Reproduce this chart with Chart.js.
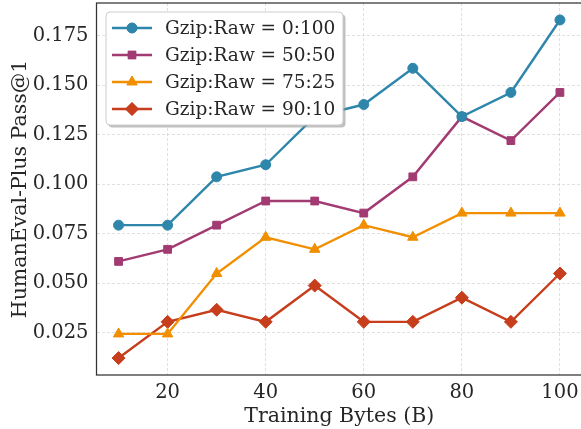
<!DOCTYPE html>
<html>
<head>
<meta charset="utf-8">
<script src="https://cdn.jsdelivr.net/npm/chart.js@4.4.1/dist/chart.umd.min.js"></script>
<style>
  html, body { margin: 0; padding: 0; background: #fff; overflow: hidden; }
  #wrap { width: 581px; height: 429px; overflow: hidden; }
</style>
</head>
<body>
<div id="wrap"><canvas id="c" width="600" height="429"></canvas></div>
<script>
// training bytes (B)
const bytes = [10, 20, 30, 40, 50, 60, 70, 80, 90, 100];

// pass@1 per mix (HumanEval-Plus, 164 problems)
const raw100 = [0.0793, 0.0793, 0.1037, 0.1098, 0.1341, 0.1402, 0.1585, 0.1341, 0.1463, 0.1829];
const mix5050 = [0.0610, 0.0671, 0.0793, 0.0915, 0.0915, 0.0854, 0.1037, 0.1341, 0.1220, 0.1463];
const mix7525 = [0.0244, 0.0244, 0.0549, 0.0732, 0.0671, 0.0793, 0.0732, 0.0854, 0.0854, 0.0854];
const mix9010 = [0.0122, 0.0305, 0.0366, 0.0305, 0.0488, 0.0305, 0.0305, 0.0427, 0.0305, 0.0549];

const seriesLabels = ['Gzip:Raw = 0:100', 'Gzip:Raw = 50:50', 'Gzip:Raw = 75:25', 'Gzip:Raw = 90:10'];
const xTicks = [20, 40, 60, 80, 100];
const yTicks = [0.025, 0.050, 0.075, 0.100, 0.125, 0.150, 0.175];

const FONT = "'DejaVu Serif', serif";
const TEXT = '#262626';

function mkSet(label, vals, color, style, r) {
  return {
    label,
    data: bytes.map((x, i) => ({ x, y: vals[i] })),
    borderColor: color,
    backgroundColor: color,
    pointBackgroundColor: color,
    pointBorderColor: color,
    pointBorderWidth: 1,
    pointStyle: style,
    pointRadius: r,
    borderWidth: 2.4,
    tension: 0
  };
}

const datasets = [
  mkSet(seriesLabels[0], raw100, '#2E86AB', 'circle', 5),
  mkSet(seriesLabels[1], mix5050, '#A23B72', 'rect', 5.5),
  mkSet(seriesLabels[2], mix7525, '#F18F01', 'triangle', 6),
  mkSet(seriesLabels[3], mix9010, '#C73E1D', 'rectRot', 6.5)
];

const frameAndLegend = {
  id: 'frameAndLegend',
  afterDraw(chart) {
    const { ctx, chartArea: a } = chart;
    ctx.save();
    ctx.strokeStyle = '#333';
    ctx.lineWidth = 1.25;
    ctx.strokeRect(a.left, a.top, a.right - a.left, a.bottom - a.top);

    // legend box
    const bx = 106, by = 12, bw = 237, bh = 113, rr = 4;
    ctx.fillStyle = 'rgba(150,150,150,0.6)';
    ctx.beginPath();
    ctx.roundRect(bx + 2.5, by + 2.5, bw, bh, rr);
    ctx.fill();
    ctx.fillStyle = '#fff';
    ctx.strokeStyle = '#cccccc';
    ctx.lineWidth = 1;
    ctx.beginPath();
    ctx.roundRect(bx, by, bw, bh, rr);
    ctx.fill();
    ctx.stroke();

    ctx.font = '18.5px ' + FONT;
    ctx.textBaseline = 'middle';
    ctx.textAlign = 'left';
    chart.data.datasets.forEach((ds, i) => {
      const y = 28 + i * 27;
      ctx.strokeStyle = ds.borderColor;
      ctx.lineWidth = 2.4;
      ctx.beginPath();
      ctx.moveTo(112, y);
      ctx.lineTo(152, y);
      ctx.stroke();
      ctx.fillStyle = ds.borderColor;
      ctx.lineWidth = 1;
      Chart.helpers.drawPoint(ctx, { pointStyle: ds.pointStyle, radius: ds.pointRadius, rotation: 0, borderWidth: 1 }, 132, y);
      ctx.fill();
      ctx.fillStyle = TEXT;
      ctx.fillText(ds.label, 165, y + 1);
    });
    ctx.restore();
  }
};

new Chart(document.getElementById('c'), {
  type: 'line',
  data: { datasets },
  options: {
    responsive: false,
    animation: false,
    layout: { autoPadding: false, padding: { top: 3, right: 18, left: 0, bottom: 0 } },
    plugins: { legend: { display: false }, tooltip: { enabled: false } },
    scales: {
      x: {
        type: 'linear',
        min: 5.5,
        max: 104.5,
        afterBuildTicks: s => { s.ticks = xTicks.map(v => ({ value: v })); },
        afterFit: s => { s.height = 54; s.paddingLeft = 0; s.paddingRight = 0; },
        grid: { color: 'rgba(200,200,200,0.7)', lineWidth: 0.8, drawTicks: false },
        border: { display: false, dash: [3, 2] },
        ticks: { font: { family: FONT, size: 19.5 }, color: TEXT, padding: 6, maxRotation: 0 },
        title: { display: true, text: 'Training Bytes (B)', font: { family: FONT, size: 20.5 }, color: TEXT, padding: { top: 0, bottom: 0 } }
      },
      y: {
        type: 'linear',
        min: 0.00366,
        max: 0.19146,
        afterBuildTicks: s => { s.ticks = yTicks.map(v => ({ value: v })); },
        afterFit: s => { s.width = 96.5; s.paddingTop = 0; s.paddingBottom = 0; },
        grid: { color: 'rgba(200,200,200,0.7)', lineWidth: 0.8, drawTicks: false },
        border: { display: false, dash: [3, 2] },
        ticks: { font: { family: FONT, size: 19.5 }, color: TEXT, padding: 8, callback: v => v.toFixed(3) },
        title: { display: true, text: 'HumanEval-Plus Pass@1', font: { family: FONT, size: 20.5 }, color: TEXT, padding: { top: 8, bottom: 2 } }
      }
    }
  },
  plugins: [frameAndLegend]
});
</script>
</body>
</html>
